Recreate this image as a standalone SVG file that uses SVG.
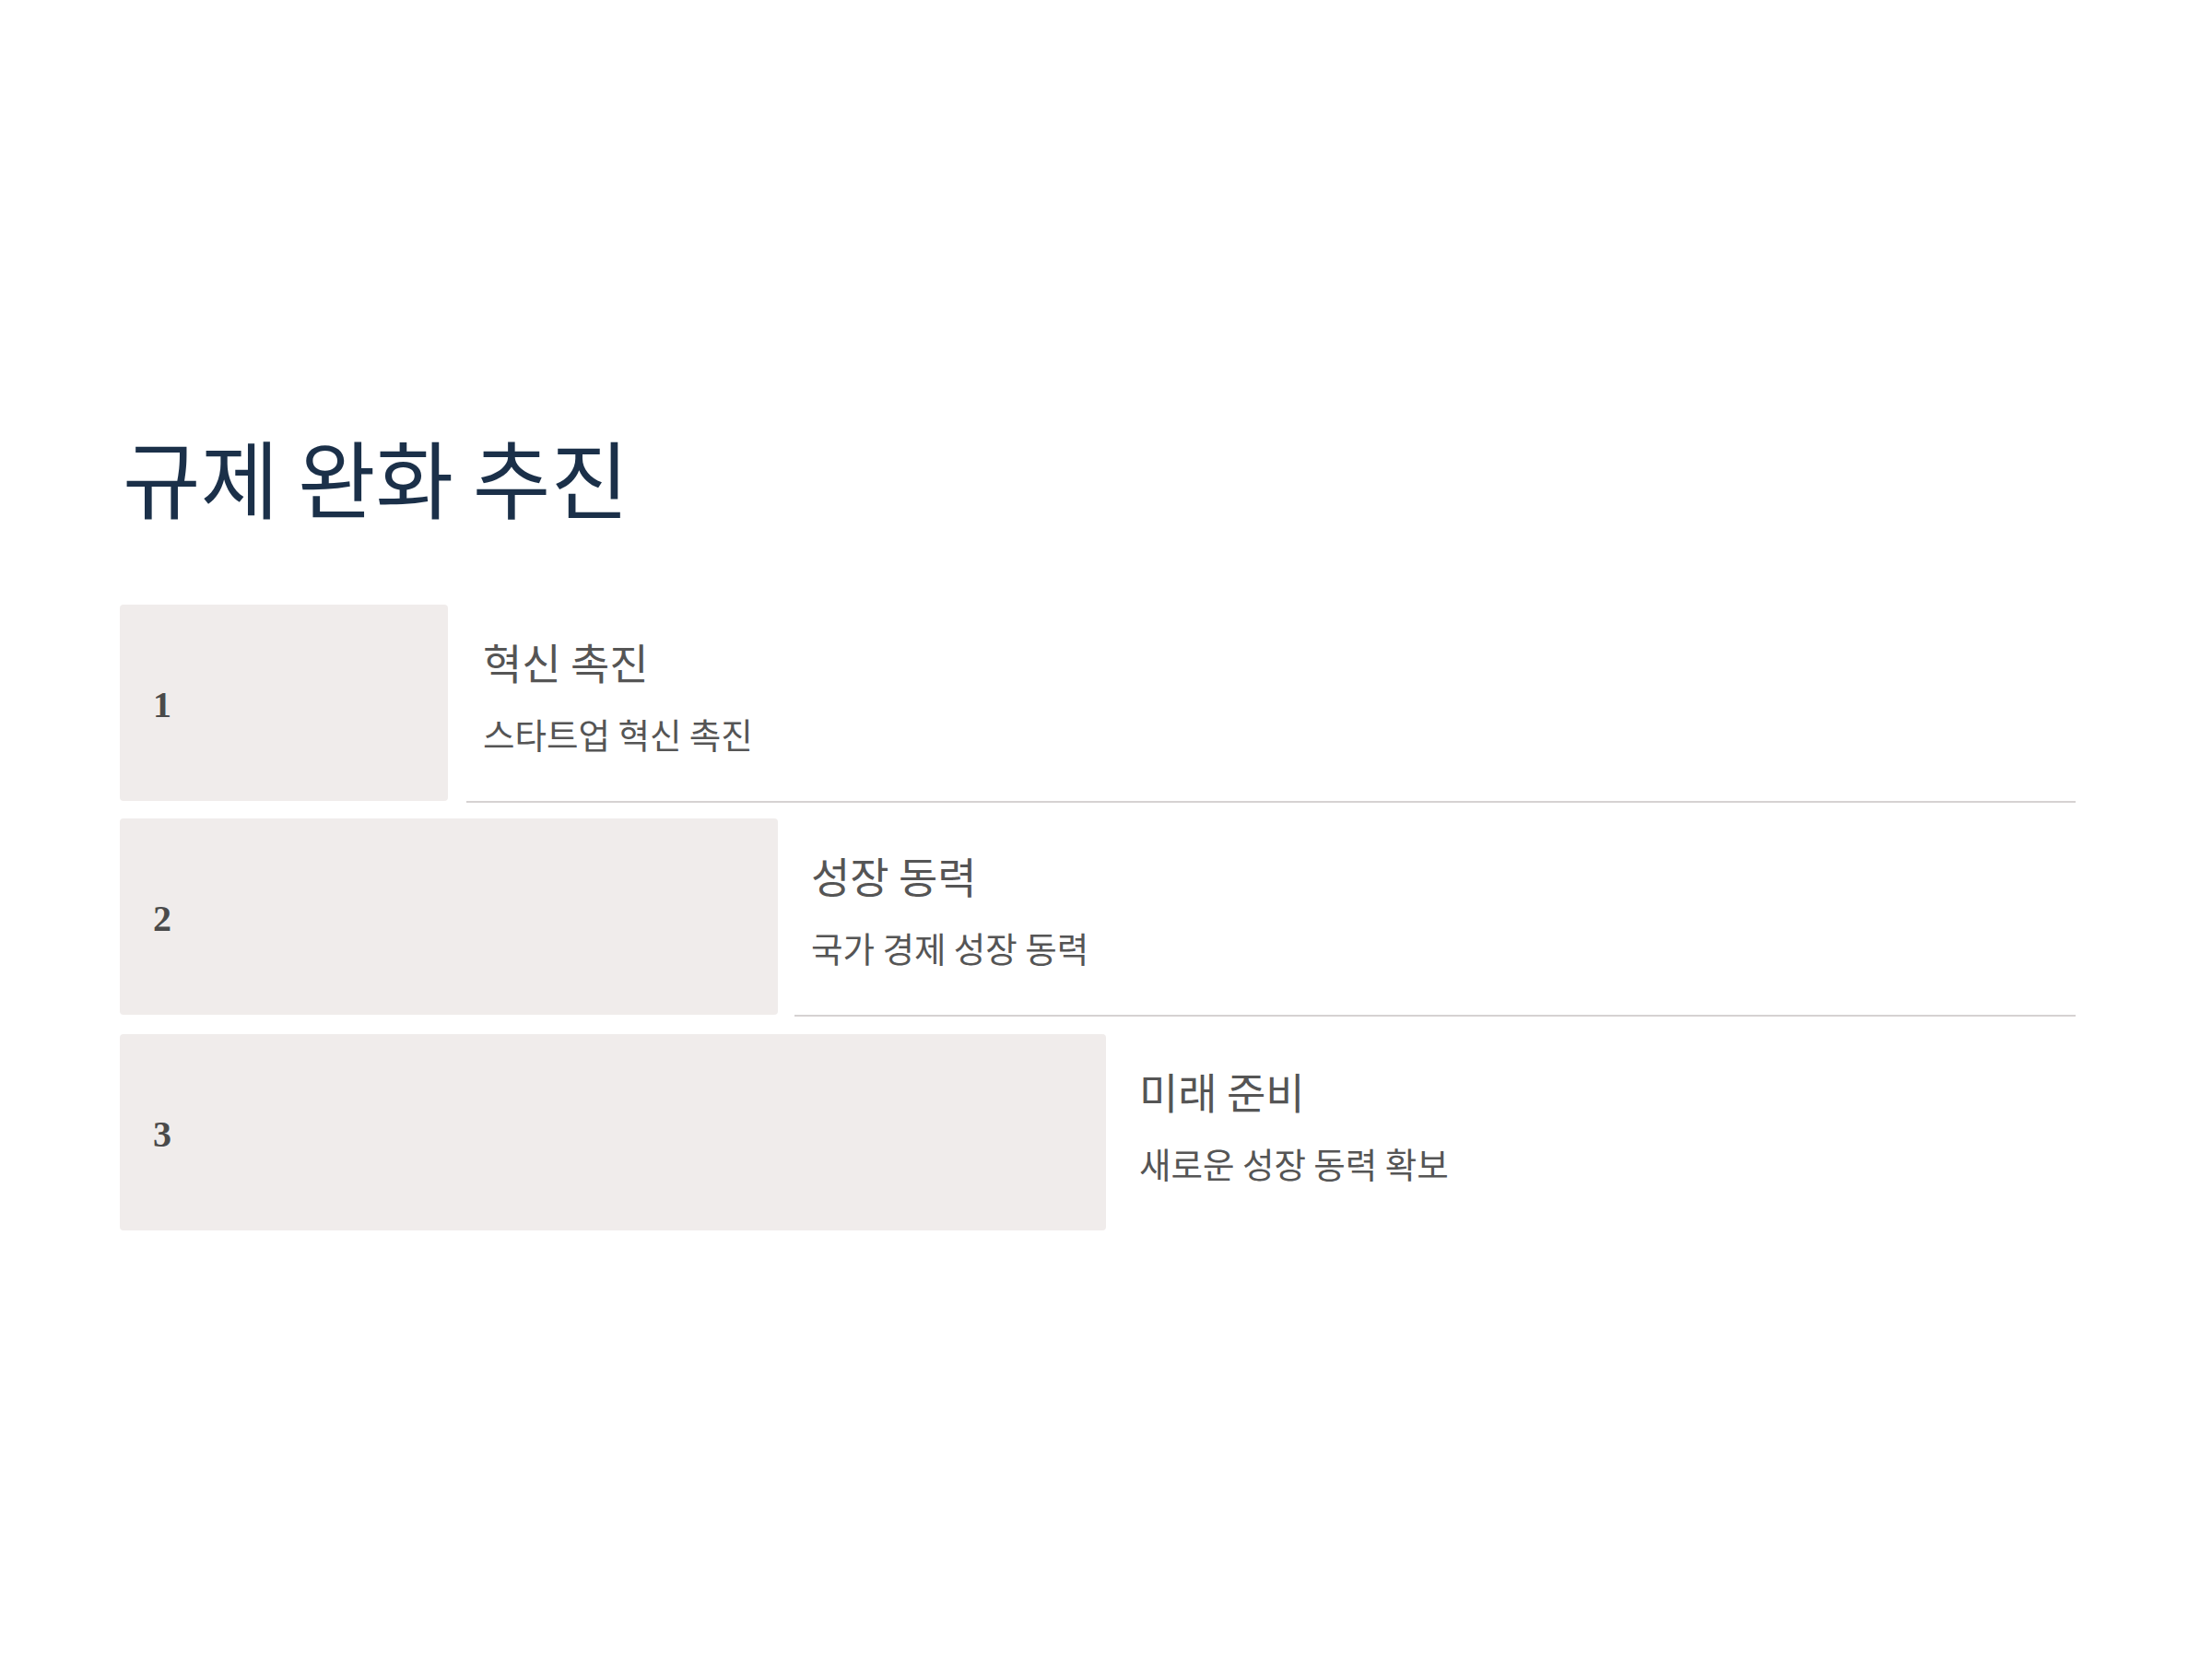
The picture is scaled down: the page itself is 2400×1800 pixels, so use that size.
<svg xmlns="http://www.w3.org/2000/svg" width="2400" height="1800" viewBox="0 0 2400 1800">
<style>
.bg{fill:#ffffff}
.bar{fill:#f0eceb}
.sep{stroke:#d6d2d2;stroke-width:2;fill:none}
.title{font-family:"Noto Sans CJK KR","Noto Sans",sans-serif;font-size:92px;fill:#1b3049}
.num{font-family:"Liberation Serif",serif;font-size:40px;font-weight:bold;fill:#4a4a4a}
.head{font-family:"Noto Sans CJK KR","Noto Sans",sans-serif;font-size:46px;fill:#555555}
.sub{font-family:"Noto Sans CJK KR","Noto Sans",sans-serif;font-size:37.5px;fill:#555555}
</style>
<rect class="bg" x="0" y="0" width="2400" height="1800"/>
<text class="title" x="133" y="556">규제 완화 추진</text>
<g id="connectors">
<line class="sep" x1="506" y1="870" x2="2252" y2="870"/>
<line class="sep" x1="862" y1="1102" x2="2252" y2="1102"/>
</g>
<g id="step1">
<rect class="bar" x="130" y="656" width="356" height="213" rx="4"/>
<text class="num" x="166" y="778">1</text>
<text class="head" x="524" y="737">혁신 촉진</text>
<text class="sub" x="524" y="812">스타트업 혁신 촉진</text>
</g>
<g id="step2">
<rect class="bar" x="130" y="888" width="714" height="213" rx="4"/>
<text class="num" x="166" y="1010">2</text>
<text class="head" x="880" y="969">성장 동력</text>
<text class="sub" x="880" y="1044">국가 경제 성장 동력</text>
</g>
<g id="step3">
<rect class="bar" x="130" y="1122" width="1070" height="213" rx="4"/>
<text class="num" x="166" y="1244">3</text>
<text class="head" x="1236" y="1203">미래 준비</text>
<text class="sub" x="1236" y="1278">새로운 성장 동력 확보</text>
</g>
</svg>
